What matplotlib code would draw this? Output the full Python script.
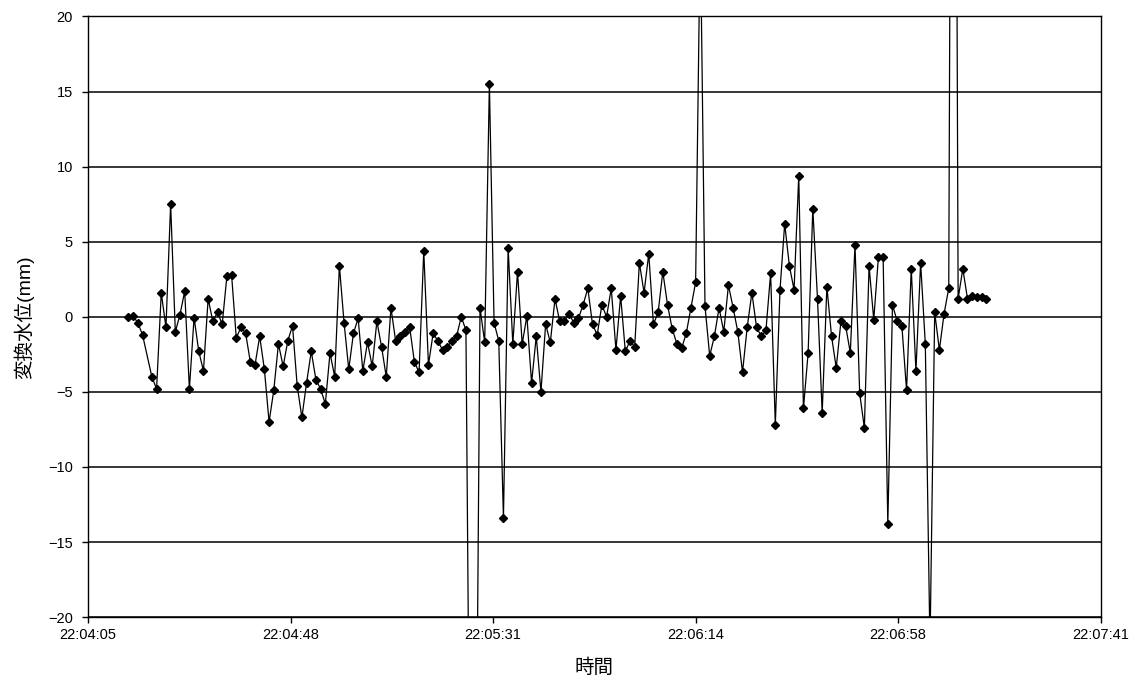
import numpy as np
import matplotlib.pyplot as plt
from matplotlib.ticker import FixedLocator, FuncFormatter

plt.rcParams['font.family'] = ['Liberation Sans', 'Noto Sans CJK JP', 'DejaVu Sans']

# logger settings: one sample per second, one sample dropped after the 4th
start_time = '22:04:13.4'
interval_s = 1.0
dropped_after = [4]

# converted water level (mm), one value per recorded sample
level_mm = [
    0.0, 0.05, -0.4, -1.2, -4.0, -4.8, 1.6, -0.7, 7.5, -1.0,
    0.15, 1.7, -4.8, -0.05, -2.3, -3.6, 1.2, -0.3, 0.3, -0.5,
    2.7, 2.8, -1.4, -0.7, -1.1, -3.0, -3.2, -1.3, -3.5, -7.0,
    -4.9, -1.8, -3.3, -1.6, -0.6, -4.6, -6.7, -4.4, -2.3, -4.2,
    -4.8, -5.8, -2.4, -4.0, 3.4, -0.4, -3.5, -1.1, -0.1, -3.6,
    -1.7, -3.3, -0.3, -2.0, -4.0, 0.6, -1.6, -1.3, -1.0, -0.7,
    -3.0, -3.7, 4.4, -3.2, -1.1, -1.6, -2.2, -2.0, -1.6, -1.3,
    0.0, -0.9, -40.0, -40.0, 0.6, -1.7, 15.5, -0.4, -1.6, -13.4,
    4.6, -1.8, 3.0, -1.8, 0.05, -4.4, -1.3, -5.0, -0.5, -1.7,
    1.2, -0.3, -0.3, 0.2, -0.4, -0.1, 0.8, 1.9, -0.5, -1.2,
    0.8, 0.0, 1.9, -2.2, 1.4, -2.3, -1.6, -2.0, 3.6, 1.6,
    4.2, -0.5, 0.3, 3.0, 0.8, -0.8, -1.8, -2.1, -1.1, 0.6,
    2.3, 26.0, 0.7, -2.6, -1.3, 0.6, -1.0, 2.1, 0.6, -1.0,
    -3.7, -0.7, 1.6, -0.7, -1.3, -0.9, 2.9, -7.2, 1.8, 6.2,
    3.4, 1.8, 9.4, -6.1, -2.4, 7.2, 1.2, -6.4, 2.0, -1.3,
    -3.4, -0.3, -0.6, -2.4, 4.8, -5.1, -7.4, 3.4, -0.2, 4.0,
    4.0, -13.8, 0.8, -0.3, -0.6, -4.9, 3.2, -3.6, 3.6,
    -1.8, -22.0, 0.3, -2.2, 0.2, 1.9, 85.0, 1.2, 3.2, 1.2,
    1.4, 1.3, 1.3, 1.2,
]

# axis: 0.9195 day to 0.9220 day, major unit 0.0005 day
x_min_day = 0.9195
x_max_day = 0.9220
x_step_day = 0.0005
y_ticks = [-20, -15, -10, -5, 0, 5, 10, 15, 20]


def to_seconds(s):
    h, m, sec = s.split(':')
    return int(h) * 3600 + int(m) * 60 + float(sec)


def hms(v, pos=None):
    v = int(round(v))
    return '%d:%02d:%02d' % (v // 3600, (v // 60) % 60, v % 60)


# sample clock with the dropped samples taken out
n_slots = len(level_mm) + len(dropped_after)
slots = np.delete(np.arange(n_slots), [i + k for k, i in enumerate(dropped_after)])
t = to_seconds(start_time) + interval_s * slots

fig = plt.figure(figsize=(11.3, 6.85), dpi=100)
ax = fig.add_axes([0.078, 0.099, 0.896, 0.877])

ax.plot(t, level_mm, color='black', linewidth=0.9, marker='D',
        markersize=3.8, markerfacecolor='black', markeredgecolor='black')

x0 = x_min_day * 86400
x1 = x_max_day * 86400
ax.set_xlim(x0, x1)
ax.set_ylim(-20, 20)
ax.xaxis.set_major_locator(FixedLocator(x0 + x_step_day * 86400 * np.arange(6)))
ax.xaxis.set_major_formatter(FuncFormatter(hms))
ax.set_yticks(y_ticks)

for y in y_ticks:
    ax.axhline(y, color='black', linewidth=1.1, zorder=0)

for s in ax.spines.values():
    s.set_color('black')
    s.set_linewidth(1.0)

ax.tick_params(axis='both', direction='out', length=4, width=1.0,
               labelsize=10.5, colors='black')
ax.tick_params(axis='x', pad=3.5)
ax.tick_params(axis='y', pad=7)

ax.set_xlabel('時間', fontsize=14, labelpad=12)
ax.set_ylabel('変換水位(mm)', fontsize=14, labelpad=10)

fig.savefig('out.png', dpi=100, facecolor='white')
